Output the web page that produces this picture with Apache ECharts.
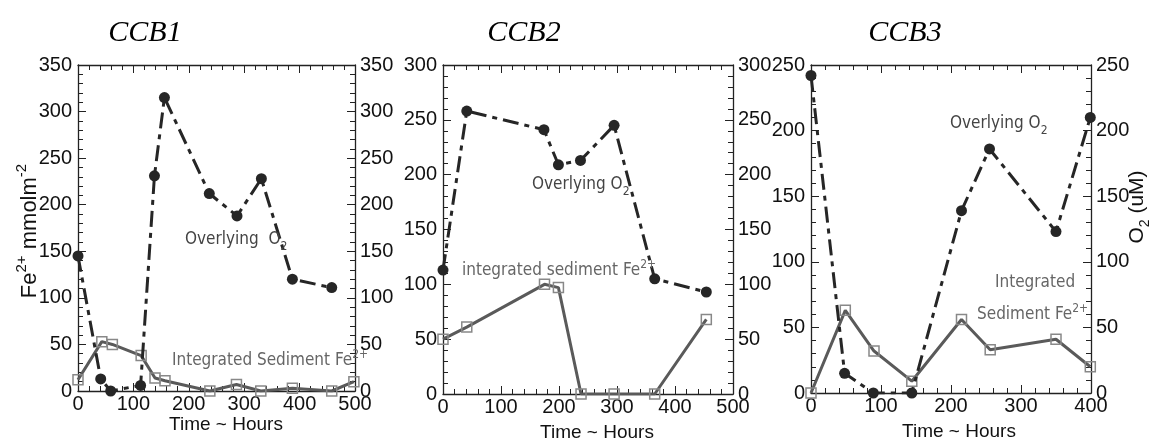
<!DOCTYPE html>
<html>
<head>
<meta charset="utf-8">
<script src="https://cdn.jsdelivr.net/npm/echarts@6/dist/echarts.min.js"></script>
<style>
html,body{margin:0;padding:0;background:#fff;}
#chart{width:1155px;height:444px;}
</style>
</head>
<body>
<div id="chart"></div>
<script>
// ---- Data ----
const panelTitles = ['CCB1', 'CCB2', 'CCB3'];

const ccb1O2Time = [0, 41, 59, 113, 138, 156, 237, 287, 331, 387, 458];
const ccb1O2     = [145, 13, 0, 6, 231, 315, 212, 188, 228, 120, 111];
const ccb1FeTime = [0, 43, 62, 114, 139, 157, 238, 286, 330, 387, 458, 498];
const ccb1Fe     = [12, 53, 50, 38, 14, 11, 0, 7, 0, 3, 0, 10];

const ccb2O2Time = [0, 41, 174, 199, 237, 295, 365, 454];
const ccb2O2     = [113, 258, 241, 209, 213, 245, 105, 93];
const ccb2FeTime = [0, 41, 175, 199, 238, 295, 365, 454];
const ccb2Fe     = [50, 61, 100, 97, 0, 0, 0, 68];

const ccb3O2Time = [0, 48, 89, 144, 215, 255, 350, 399];
const ccb3O2     = [242, 15, 0, 0, 139, 186, 123, 210];
const ccb3FeTime = [0, 49, 90, 144, 215, 256, 350, 399];
const ccb3Fe     = [0, 63, 32, 9, 56, 33, 41, 20];

const xMax = [500, 500, 400];
const yMax = [350, 300, 250];
const xInterval = 100;
const yInterval = 50;

// ---- Layout / style ----
const grids = [
  {left: 78,  top: 65, width: 277, height: 326},
  {left: 443, top: 65, width: 290, height: 329},
  {left: 811, top: 65, width: 280, height: 328}
];
const SANS = '"Liberation Sans", Arial, sans-serif';
const NARROW = '"Liberation Sans Narrow", "Arial Narrow", "DejaVu Sans Condensed", sans-serif';
const AX = '#222';

function pairs(xs, ys) { return xs.map((x, i) => [x, ys[i]]); }

const xAxes = [], yAxes = [];
for (let p = 0; p < 3; p++) {
  const common = {
    type: 'value', gridIndex: p, min: 0,
    axisLine: {show: true, onZero: false, lineStyle: {color: AX, width: 1.3}},
    axisTick: {show: true, inside: true, length: 8, lineStyle: {color: AX, width: 1}},
    minorTick: {show: true, splitNumber: 5, length: 5, lineStyle: {color: AX, width: 1}},
    splitLine: {show: false},
    minorSplitLine: {show: false}
  };
  xAxes.push(Object.assign({}, common, {
    position: 'bottom', max: xMax[p], interval: xInterval,
    axisLabel: {show: true, fontSize: 20, fontFamily: SANS, color: '#111', margin: 3}
  }));
  xAxes.push(Object.assign({}, common, {
    position: 'top', max: xMax[p], interval: xInterval,
    axisLabel: {show: false}
  }));
  yAxes.push(Object.assign({}, common, {
    position: 'left', max: yMax[p], interval: yInterval,
    axisLabel: {show: true, fontSize: 20, fontFamily: SANS, color: '#111', margin: 6}
  }));
  yAxes.push(Object.assign({}, common, {
    position: 'right', max: yMax[p], interval: yInterval,
    axisLabel: {show: true, fontSize: 20, fontFamily: SANS, color: '#111', margin: 5}
  }));
}

const o2Data = [pairs(ccb1O2Time, ccb1O2), pairs(ccb2O2Time, ccb2O2), pairs(ccb3O2Time, ccb3O2)];
const feData = [pairs(ccb1FeTime, ccb1Fe), pairs(ccb2FeTime, ccb2Fe), pairs(ccb3FeTime, ccb3Fe)];

const series = [];
for (let p = 0; p < 3; p++) {
  series.push({
    type: 'line', xAxisIndex: 2 * p, yAxisIndex: 2 * p, data: feData[p],
    symbol: 'rect', symbolSize: 10, showSymbol: true, z: 2,
    lineStyle: {color: '#5a5a5a', width: 3},
    itemStyle: {color: 'rgba(255,255,255,0)', borderColor: '#888', borderWidth: 1.5},
    animation: false, silent: true
  });
  series.push({
    type: 'line', xAxisIndex: 2 * p, yAxisIndex: 2 * p, data: o2Data[p],
    symbol: 'circle', symbolSize: 11, showSymbol: true, z: 3,
    lineStyle: {color: '#262626', width: 3, type: [16, 6, 5, 6]},
    itemStyle: {color: '#262626'},
    animation: false, silent: true
  });
}

function richText(x, y, text, size, color, opts) {
  opts = opts || {};
  const lh = Math.round(size * 1.45);
  const ss = Math.round(size * 0.68);
  return {
    type: 'text', x: x, y: y, rotation: opts.rotation || 0, z: 10,
    style: {
      text: text,
      align: opts.align || 'left', verticalAlign: 'middle',
      rich: {
        m: {fontSize: size, fontFamily: opts.font || SANS, fill: color, lineHeight: lh, verticalAlign: 'middle'},
        b: {fontSize: ss, fontFamily: opts.font || SANS, fill: color, lineHeight: ss, verticalAlign: 'bottom'},
        t: {fontSize: ss, fontFamily: opts.font || SANS, fill: color, lineHeight: ss, verticalAlign: 'top'}
      }
    }
  };
}

const titleX = [145, 524, 905];
const xNameX = [226, 597, 959];
const xNameY = [425, 433, 432];
const graphics = [];
for (let p = 0; p < 3; p++) {
  graphics.push({
    type: 'text', x: titleX[p], y: 33, z: 10,
    style: {text: panelTitles[p], font: 'italic 30px "Liberation Serif", "Times New Roman", serif',
            fill: '#000', align: 'center', verticalAlign: 'middle'}
  });
  graphics.push({
    type: 'text', x: xNameX[p], y: xNameY[p], z: 10,
    style: {text: 'Time ~ Hours', font: '19px ' + SANS, fill: '#111', align: 'center', verticalAlign: 'middle'}
  });
}
// axis names
graphics.push(richText(30, 231, '{m|Fe}{t|2+}{m| mmolm}{t|-2}', 22, '#111', {rotation: Math.PI / 2, align: 'center'}));
graphics.push(richText(1137, 207, '{m|O}{b|2}{m| (uM)}', 21, '#111', {rotation: Math.PI / 2, align: 'center'}));
// annotations
const O2C = '#444', FEC = '#666';
graphics.push(richText(185, 240, '{m|Overlying  O}{b|2}', 17, O2C, {font: NARROW}));
graphics.push(richText(172, 361, '{m|Integrated Sediment Fe}{t|2+}', 17, FEC, {font: NARROW}));
graphics.push(richText(532, 185, '{m|Overlying O}{b|2}', 17, O2C, {font: NARROW}));
graphics.push(richText(462, 271, '{m|integrated sediment Fe}{t|2+}', 17, FEC, {font: NARROW}));
graphics.push(richText(950, 124, '{m|Overlying O}{b|2}', 17, O2C, {font: NARROW}));
graphics.push(richText(995, 283, '{m|Integrated}', 17, FEC, {font: NARROW}));
graphics.push(richText(977, 315, '{m|Sediment Fe}{t|2+}', 17, FEC, {font: NARROW}));

const chart = echarts.init(document.getElementById('chart'), null, {renderer: 'canvas'});
chart.setOption({
  animation: false,
  backgroundColor: '#fff',
  grid: grids,
  xAxis: xAxes,
  yAxis: yAxes,
  series: series,
  graphic: graphics
});
</script>
</body>
</html>
